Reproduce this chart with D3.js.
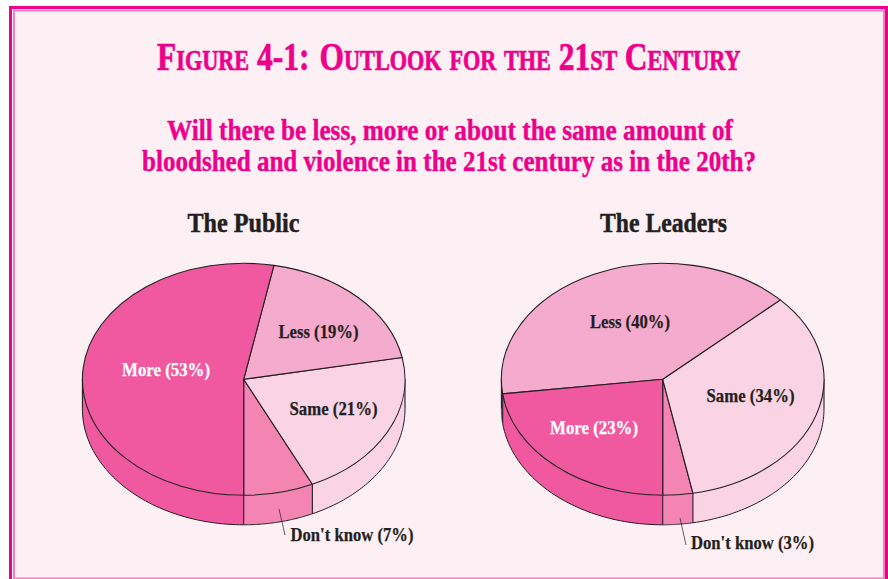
<!DOCTYPE html>
<html><head><meta charset="utf-8">
<script src="https://cdn.jsdelivr.net/npm/d3@7/dist/d3.min.js"></script>
<style>html,body{margin:0;padding:0;background:#fff}svg{display:block}</style>
</head><body><div id="c"></div>
<script>
const categories = ["Don't know", "Same", "Less", "More"];
const publicValues = [7, 21, 19, 53];
const leaderValues = [3, 34, 40, 23];
const sliceColors = ["#f384b4", "#fad3e5", "#f4abcd", "#f059a0"];
const chartTitles = ["The Public", "The Leaders"];
const questionLines = ["Will there be less, more or about the same amount of","bloodshed and violence in the 21st century as in the 20th?"];
const titleRuns = [["F",1],["IGURE ",0],["4-1: ",1],["O",1],["UTLOOK FOR THE ",0],["21",1],["ST ",0],["C",1],["ENTURY",0]];
const W = 888, H = 579;
const INK = "#231f20", HOT = "#ec008c";
const SERIF = "'Liberation Serif'";
const svg = d3.select("#c").append("svg").attr("width", W).attr("height", H);

// frame
svg.append("rect").attr("width",W).attr("height",H).attr("fill","#fff");
svg.append("rect").attr("x",10.5).attr("y",7.5).attr("width",876).attr("height",H).attr("fill","none").attr("stroke",HOT).attr("stroke-width",3);
svg.append("rect").attr("x",14).attr("y",10.5).attr("width",870).attr("height",568).attr("fill","#fcf0f4").attr("stroke","#f77fbe").attr("stroke-width",2);

function heavy(sel, w){ return sel.attr("stroke",sel.attr("fill")).attr("stroke-width",w).attr("paint-order","stroke"); }
function fit(sel, len){ return sel.attr("textLength",len).attr("lengthAdjust","spacingAndGlyphs"); }

// title: drawn at natural width, then squeezed horizontally to the measured span
const titleG = svg.append("g");
const title = titleG.append("text").attr("font-family",SERIF).attr("font-weight",700).attr("fill",HOT).attr("xml:space","preserve").attr("word-spacing",3);
titleRuns.forEach(([t,big])=>title.append("tspan").attr("font-size",big?41:29).text(t));
heavy(title,0.7);
const natural = title.node().getComputedTextLength();
titleG.attr("transform",`translate(157,70) scale(${584/natural},1)`);

// question
[[167,566,139.5],[142,614,171]].forEach(([x,len,y],i)=>{
  const q = svg.append("text").attr("x",x).attr("y",y).attr("font-family",SERIF).attr("font-weight",700).attr("font-size",29.5).attr("fill",HOT).text(questionLines[i]);
  heavy(fit(q,len),0.4);
});

const rx = 161.3, ry = 116, depth = 29.5, cy = 379.3;
const pie = d3.pie().sort(null).startAngle(Math.PI).endAngle(-Math.PI);
const arc = d3.arc().innerRadius(0).outerRadius(rx);

function drawPie(cx, values, titleText, titleX, titleLen, labels, leader){
  const g = svg.append("g").attr("transform",`translate(${cx},${cy})`);
  const arcs = pie(values);
  const px = a => rx*Math.sin(a), py = a => -ry*Math.cos(a);
  // side wall: only the part of each slice on the lower half of the ellipse
  arcs.forEach((d,i)=>{
    const s = d.startAngle, e = d.endAngle;
    [[s, Math.max(e,Math.PI/2)], [Math.min(s,-Math.PI/2), e]].filter(r=>r[0]>r[1]).forEach(([a,b])=>{
      const ts = d3.range(0,61).map(k=>a+(b-a)*k/60);
      const top = ts.map(t=>[px(t),py(t)]);
      const bot = ts.map(t=>[px(t),py(t)+depth]).reverse();
      g.append("path").attr("d",d3.line()(top.concat(bot))+"Z").attr("fill",sliceColors[i]);
      g.append("path").attr("d",d3.line()(bot)).attr("fill","none").attr("stroke",INK).attr("stroke-width",1);
    });
  });
  // vertical edges: slice boundaries on the front, plus the two silhouette edges
  const edges = arcs.map(d=>d.startAngle).filter(t=>Math.abs(t)>Math.PI/2).concat([Math.PI/2,-Math.PI/2]);
  g.selectAll("line").data(edges).join("line")
    .attr("x1",px).attr("y1",py).attr("x2",px).attr("y2",t=>py(t)+depth)
    .attr("stroke",INK).attr("stroke-width",1.1);
  // top face
  g.append("g").attr("transform",`scale(1,${ry/rx})`).selectAll("path").data(arcs).join("path")
    .attr("d",arc).attr("fill",(d,i)=>sliceColors[i]).attr("stroke",INK).attr("stroke-width",1.1)
    .attr("vector-effect","non-scaling-stroke").attr("stroke-linejoin","round");
  // pie title
  const tt = svg.append("text").attr("x",titleX).attr("y",232).attr("font-family",SERIF).attr("font-weight",700).attr("font-size",28).attr("fill",INK).text(titleText);
  heavy(fit(tt,titleLen),0.5);
  // labels
  labels.forEach(l=>{
    const i = categories.indexOf(l.cat);
    const t = svg.append("text").attr("x",l.x).attr("y",l.y).attr("font-family",SERIF).attr("font-weight",700).attr("font-size",19.5)
      .attr("fill",l.fill).text(`${l.cat} (${values[i]}%)`);
    heavy(fit(t,l.len),0.25);
  });
  svg.append("line").attr("x1",leader[0]).attr("y1",leader[1]).attr("x2",leader[2]).attr("y2",leader[3]).attr("stroke",INK).attr("stroke-width",0.7);
}

drawPie(243.7, publicValues, chartTitles[0], 187.5, 112, [
  {cat:"More",x:122,y:376,len:88,fill:"#fff"},
  {cat:"Less",x:278.5,y:338,len:80,fill:INK},
  {cat:"Same",x:289.5,y:415,len:88,fill:INK},
  {cat:"Don't know",x:290.5,y:540.5,len:123,fill:INK}
],[279,509,285,535]);
drawPie(662.7, leaderValues, chartTitles[1], 600, 127, [
  {cat:"More",x:550,y:434,len:88,fill:"#fff"},
  {cat:"Less",x:590,y:328,len:80,fill:INK},
  {cat:"Same",x:706.5,y:402,len:88,fill:INK},
  {cat:"Don't know",x:691,y:549,len:123,fill:INK}
],[680,518,686,545]);
</script></body></html>
